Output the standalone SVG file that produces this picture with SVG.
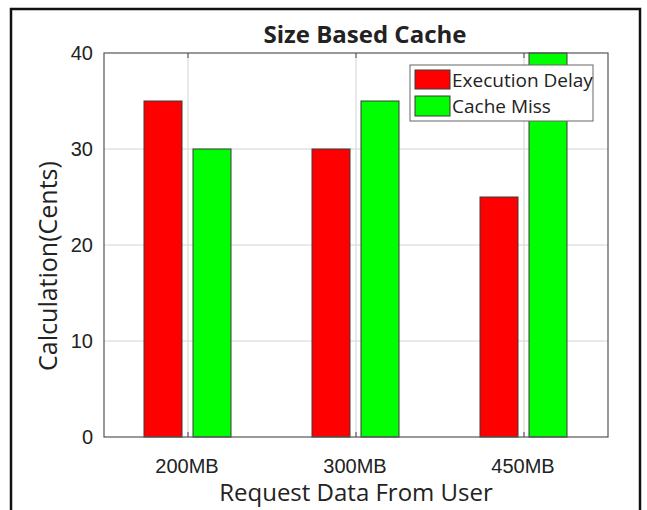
<svg xmlns="http://www.w3.org/2000/svg" width="647" height="510" viewBox="0 0 647 510">
<style>
.grid{stroke:#d4d4d4;stroke-width:1;fill:none}
.tick{stroke:#444;stroke-width:1}
.red{fill:#ff0000;stroke:#3a3a3a;stroke-width:1}
.green{fill:#00ff00;stroke:#3a3a3a;stroke-width:1}
.num{font-family:"Liberation Sans",Arial,sans-serif;font-size:20px;fill:#222}
.lab{font-family:"Open Sans","Liberation Sans",sans-serif;fill:#222}
</style>
<rect x="0" y="0" width="647" height="510" fill="#ffffff"/>
<rect x="11" y="9" width="629" height="520" fill="none" stroke="#111" stroke-width="2.5"/>
<g id="title"><text class="lab" x="365" y="43" font-size="24" font-weight="bold" text-anchor="middle" fill="#111">Size Based Cache</text></g>
<g id="plot">
<rect x="104" y="53" width="504" height="384" fill="#fff"/>
<g class="grid">
<line x1="104" y1="149" x2="608" y2="149"/>
<line x1="104" y1="245" x2="608" y2="245"/>
<line x1="104" y1="341" x2="608" y2="341"/>
<line x1="188" y1="53" x2="188" y2="437"/>
<line x1="356" y1="53" x2="356" y2="437"/>
<line x1="524" y1="53" x2="524" y2="437"/>
</g>
<g class="tick">
<line x1="188" y1="53" x2="188" y2="58"/>
<line x1="356" y1="53" x2="356" y2="58"/>
<line x1="524" y1="53" x2="524" y2="58"/>
<line x1="188" y1="437" x2="188" y2="432"/>
<line x1="356" y1="437" x2="356" y2="432"/>
<line x1="524" y1="437" x2="524" y2="432"/>
</g>
</g>
<g id="bars">
<rect class="red" x="144" y="101" width="38" height="336"/>
<rect class="green" x="193" y="149" width="38" height="288"/>
<rect class="red" x="312" y="149" width="38" height="288"/>
<rect class="green" x="361" y="101" width="38" height="336"/>
<rect class="red" x="480" y="197" width="38" height="240"/>
<rect class="green" x="529" y="53" width="38" height="384"/>
</g>
<rect x="104" y="53" width="504" height="384" fill="none" stroke="#555" stroke-width="1.2"/>
<g id="yticks">
<text class="num" x="93" y="60" text-anchor="end">40</text>
<text class="num" x="93" y="156" text-anchor="end">30</text>
<text class="num" x="93" y="252" text-anchor="end">20</text>
<text class="num" x="93" y="348" text-anchor="end">10</text>
<text class="num" x="93" y="444" text-anchor="end">0</text>
</g>
<g id="xticks">
<text class="num" x="187" y="473" text-anchor="middle">200MB</text>
<text class="num" x="355" y="473" text-anchor="middle">300MB</text>
<text class="num" x="523" y="473" text-anchor="middle">450MB</text>
</g>
<g id="xlabel"><text class="lab" x="356" y="501" font-size="24" text-anchor="middle">Request Data From User</text></g>
<g id="ylabel"><text class="lab" transform="translate(57,266) rotate(-90)" x="0" y="0" font-size="25" text-anchor="middle">Calculation(Cents)</text></g>
<g id="legend">
<rect x="410" y="65" width="183" height="56" fill="#fff" stroke="#666" stroke-width="1"/>
<rect class="red" x="415" y="70" width="35" height="19"/>
<rect class="green" x="415" y="96" width="35" height="20"/>
<text class="lab" x="452" y="87" font-size="19">Execution Delay</text>
<text class="lab" x="452" y="113" font-size="19">Cache Miss</text>
</g>
</svg>
